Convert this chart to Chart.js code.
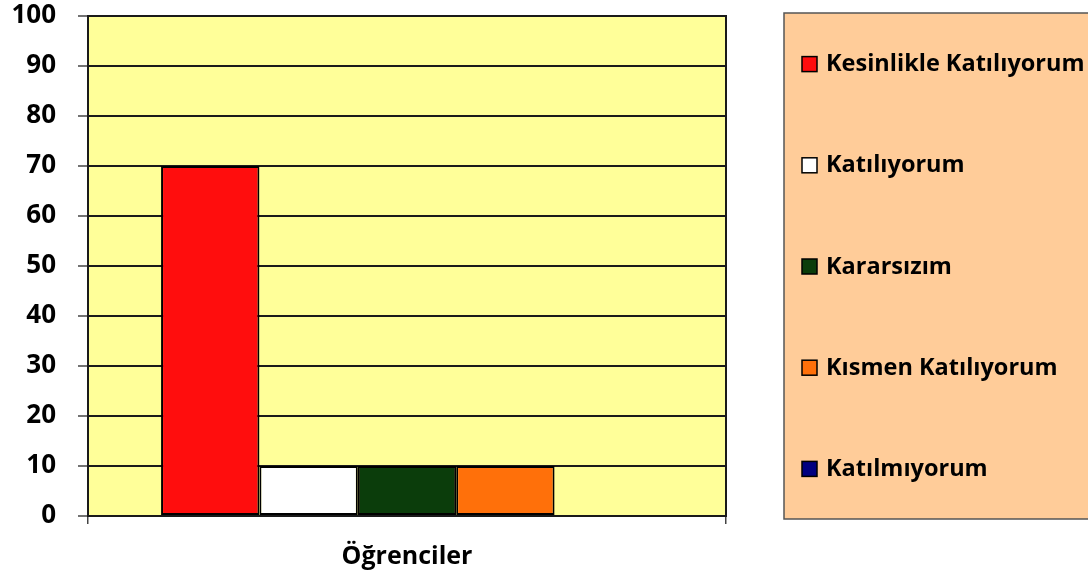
<!DOCTYPE html>
<html>
<head>
<meta charset="utf-8">
<script src="https://cdn.jsdelivr.net/npm/chart.js@4/dist/chart.umd.min.js"></script>
<style>
html,body{margin:0;padding:0;background:#fff;}
#wrap{width:1088px;height:574px;position:relative;}
</style>
</head>
<body>
<div id="wrap"><canvas id="c" width="1088" height="574"></canvas></div>
<script>
const categories = ["Öğrenciler"];
const seriesLabels = ["Kesinlikle Katılıyorum", "Katılıyorum", "Kararsızım", "Kısmen Katılıyorum", "Katılmıyorum"];
const seriesValues = [[70], [10], [10], [10], [0]];
const seriesColors = ["#FF0D0D", "#FFFFFF", "#0B3D0B", "#FF700A", "#000080"];
const yTicks = [0, 10, 20, 30, 40, 50, 60, 70, 80, 90, 100];

const FONT = "'Open Sans', 'DejaVu Sans', sans-serif";

const bgPlugin = {
  id: 'bg',
  beforeDraw(chart) {
    const {ctx, chartArea: a} = chart;
    ctx.save();
    ctx.fillStyle = '#FFFF99';
    ctx.fillRect(a.left, a.top, a.right - a.left, a.bottom - a.top);
    ctx.restore();
  },
  afterDraw(chart) {
    const {ctx, chartArea: a} = chart;
    ctx.save();
    ctx.strokeStyle = '#1a1a1a';
    ctx.lineWidth = 2;
    ctx.strokeRect(a.left, a.top, a.right - a.left, a.bottom - a.top);
    // legend box
    const lx = 784, ly = 13, lw = 320, lh = 506;
    ctx.fillStyle = '#FFCC99';
    ctx.fillRect(lx, ly, lw, lh);
    ctx.strokeStyle = '#555555';
    ctx.lineWidth = 1.5;
    ctx.strokeRect(lx, ly, lw, lh);
    const ds = chart.data.datasets;
    const step = lh / ds.length;
    ctx.font = "bold 23.5px " + FONT;
    ctx.textBaseline = 'middle';
    ctx.textAlign = 'left';
    ds.forEach((d, i) => {
      const cy = ly + step * (i + 0.5);
      ctx.fillStyle = d.backgroundColor;
      ctx.fillRect(802, cy - 7, 15, 15);
      ctx.strokeStyle = '#000';
      ctx.lineWidth = 1.5;
      ctx.strokeRect(802, cy - 7, 15, 15);
      ctx.fillStyle = '#000';
      ctx.fillText(d.label, 826, cy + 1);
    });
    ctx.restore();
  }
};

new Chart(document.getElementById('c'), {
  type: 'bar',
  data: {
    labels: categories,
    datasets: seriesLabels.map((l, i) => ({
      label: l,
      data: seriesValues[i],
      backgroundColor: seriesColors[i],
      borderColor: '#000000',
      borderWidth: 2,
      borderSkipped: false,
      categoryPercentage: 0.771,
      barPercentage: 1.0
    }))
  },
  options: {
    responsive: false,
    animation: false,
    devicePixelRatio: 1,
    layout: {padding: {top: 2, right: 362, bottom: 0, left: 0}},
    plugins: {legend: {display: false}, tooltip: {enabled: false}},
    scales: {
      x: {
        offset: true,
        afterFit(s) { s.height = 58; },
        grid: {display: true, drawOnChartArea: false, color: '#444', tickLength: 8, lineWidth: 1.5},
        border: {display: false},
        ticks: {color: '#000', padding: 18, font: {family: FONT, size: 25, weight: 'bold'}}
      },
      y: {
        min: 0, max: 100,
        afterFit(s) { s.width = 88; s.paddingTop = 16; s.paddingBottom = 0; },
        afterBuildTicks(s) { s.ticks = yTicks.map(v => ({value: v})); },
        grid: {color: '#1a1a1a', lineWidth: 2, tickLength: 10, tickColor: '#444', tickWidth: 1.5},
        border: {display: false},
        ticks: {color: '#000', padding: 22, font: {family: FONT, size: 26, weight: 'bold'}}
      }
    }
  },
  plugins: [bgPlugin]
});
</script>
</body>
</html>
